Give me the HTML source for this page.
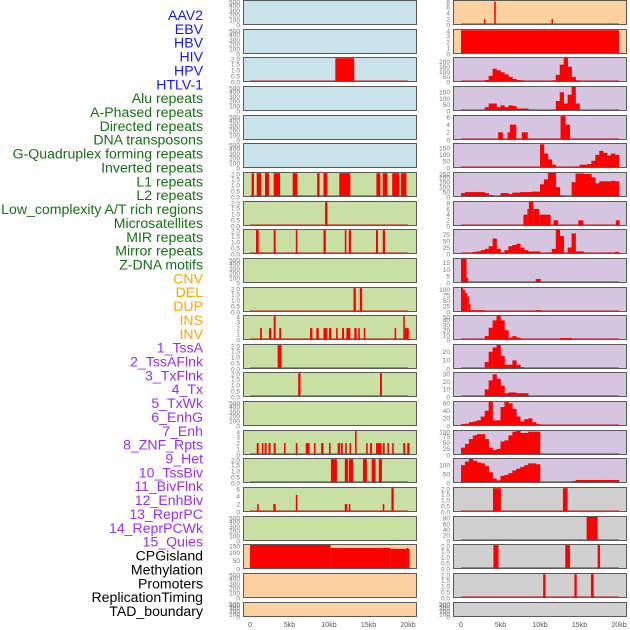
<!DOCTYPE html>
<html><head><meta charset="utf-8">
<style>
html,body{margin:0;padding:0;background:#fff;}
svg{display:block;font-family:"Liberation Sans",sans-serif;}
</style></head>
<body>
<svg id="chart" width="630" height="630" viewBox="0 0 630 630" xmlns="http://www.w3.org/2000/svg">
<g id="labels"></g>
<g id="panels"></g>
<g id="xaxes"></g>
</svg>
<script>
// ---------- data ----------
const featureNames = ["AAV2","EBV","HBV","HIV","HPV","HTLV-1","Alu repeats","A-Phased repeats","Directed repeats","DNA transposons","G-Quadruplex forming repeats","Inverted repeats","L1 repeats","L2 repeats","Low_complexity A/T rich regions","Microsatellites","MIR repeats","Mirror repeats","Z-DNA motifs","CNV","DEL","DUP","INS","INV","1_TssA","2_TssAFlnk","3_TxFlnk","4_Tx","5_TxWk","6_EnhG","7_Enh","8_ZNF_Rpts","9_Het","10_TssBiv","11_BivFlnk","12_EnhBiv","13_ReprPC","14_ReprPCWk","15_Quies","CPGisland","Methylation","Promoters","ReplicationTiming","TAD_boundary"];
const featureGroups = ["virus","virus","virus","virus","virus","virus","repeat","repeat","repeat","repeat","repeat","repeat","repeat","repeat","repeat","repeat","repeat","repeat","repeat","sv","sv","sv","sv","sv","chrom","chrom","chrom","chrom","chrom","chrom","chrom","chrom","chrom","chrom","chrom","chrom","chrom","chrom","chrom","other","other","other","other","other"];
const xTickValues = [0,5,10,15,20];
const xTickLabels = ["0","5kb","10kb","15kb","20kb"];

// left column segments [startKb, endKb, value]
const left3Segs = [[10.8,13.2,2]];
const left7Segs = [[0.2,0.5,2],[0.85,1.4,2],[1.9,2.4,2],[3.0,3.8,2],[5.4,6.0,2],[8.5,8.8,2],[9.3,9.8,2],[11.3,12.7,2],[16.0,16.5,2],[16.8,17.4,2],[18.0,18.9,2],[19.1,19.8,2]];
const left8Segs = [[9.5,9.8,2]];
const left9Segs = [[0.76,1.1,2],[3.0,3.25,2],[5.8,6.0,2],[9.3,9.6,2],[12.0,12.2,2],[12.5,12.8,2],[15.95,16.2,2],[16.8,17.1,2]];
const left11Segs = [[13.1,13.4,2],[13.9,14.2,2]];
const left12Segs = [[1.27,1.5,2],[2.4,2.7,2],[3.0,3.25,4],[3.7,3.96,2],[7.6,7.9,2],[8.4,8.7,2],[9.3,9.8,2],[10.0,10.3,2],[10.9,11.1,2],[11.65,11.9,2],[12.2,12.7,2],[13.2,13.5,2],[13.7,13.9,2],[14.4,14.6,2],[18.3,18.5,2],[19.4,19.6,4],[19.6,20.1,2]];
const left13Segs = [[3.5,4.0,2]];
const left14Segs = [[6.1,6.4,2],[16.45,16.7,2]];
const left16Segs = [[0.85,1.1,2],[1.5,1.7,2],[1.85,2.1,2],[2.35,2.6,2],[3.0,3.25,2],[4.3,4.5,2],[5.8,6.0,2],[7.05,7.55,2],[8.1,8.3,2],[9.0,9.3,2],[10.0,10.2,2],[11.1,11.4,2],[11.5,11.75,2],[12.05,12.25,2],[12.6,12.8,2],[13.3,13.5,4],[14.7,14.9,2],[15.2,15.45,2],[15.95,16.65,2],[16.8,17.05,2],[17.4,17.6,2],[18.0,18.2,2],[19.4,19.65,2],[19.9,20.2,2]];
const left17Segs = [[10.25,11.0,2],[12.0,12.4,2],[12.5,13.05,2],[14.3,14.8,2],[15.4,15.9,2],[16.3,16.7,2]];
const left18Segs = [[0.9,1.1,2],[2.95,3.25,2],[5.8,6.0,4.3],[12.0,12.3,2],[12.5,12.7,2],[16.8,17.0,2],[17.9,18.2,6]];
const left20Segs = [[0,10.2,150],[10.2,17.8,130],[17.8,19.8,125],[19.8,20.0,130],[20.0,20.2,125]];

// right column segments
const right1Segs = [[2.9,3.1,2],[4.2,4.4,8],[11.45,11.65,2]];
const right2Segs = [[0,20,4]];
const right5Segs = [[4.7,5.3,2],[5.9,6.2,2],[6.2,7.0,4],[7.7,8.45,2],[12.6,13.25,6.2],[13.25,13.8,4]];
const right8Segs = [[7.9,8.4,4],[8.4,8.6,6],[8.6,9.15,8.5],[9.15,9.9,6],[9.9,11.35,4],[11.7,12.3,2],[14.85,15.5,2],[19.6,20.1,2]];
const right10Segs = [[0,0.7,18],[0.7,0.9,4],[9.45,10.1,3]];
const right11Segs = [[0,0.25,110],[0.25,0.5,100],[0.5,0.8,85],[0.8,1.0,70],[1.0,1.2,35],[1.2,3.0,8],[9.45,10.1,8]];
const right18Segs = [[4.05,5.05,2],[12.9,13.5,2]];
const right19Segs = [[15.9,17.3,85]];
const right20Segs = [[4.1,4.75,2],[13.2,13.8,2],[17.3,17.6,2]];
const right21Segs = [[10.4,10.7,2],[14.35,14.65,2],[16.45,16.8,2]];

// right column histograms: 40 bins of 0.5kb from 0 to 20kb
const right3Hist = [0,0,0,0,0,0,20,60,130,115,95,75,50,30,20,15,0,0,0,0,10,10,0,15,70,170,240,150,50,15,0,0,0,0,0,0,0,0,0,0];
const right4Hist = [0,0,0,0,0,0,30,60,60,30,45,30,45,40,20,20,20,10,0,0,0,8,0,8,80,150,60,130,200,60,0,0,0,0,0,0,0,0,0,0];
const right6Hist = [0,0,0,0,0,0,0,0,0,0,0,0,0,0,0,0,0,0,0,0,180,110,65,25,0,0,0,0,0,10,25,25,30,55,100,130,115,95,110,100];
const right7Hist = [40,50,50,50,50,50,40,20,10,10,40,40,30,45,45,50,50,50,55,55,130,180,250,250,100,15,10,10,150,240,240,235,235,200,140,160,160,160,165,160];
const right9Hist = [0,5,0,8,10,15,20,30,60,20,5,15,30,35,40,25,15,10,10,10,0,0,5,20,95,70,0,25,80,10,10,0,0,0,0,0,0,5,0,8];
const right12Hist = [0,0,0,0,0,0,8,25,40,50,40,20,5,8,5,0,0,0,0,0,0,0,0,0,0,4,4,4,0,0,0,0,0,0,0,0,0,0,0,0];
const right13Hist = [0,0,0,0,0,0,8,20,25,28,15,5,5,10,5,2,0,0,0,0,0,0,0,0,0,0,0,0,0,0,0,0,0,0,0,0,0,0,0,0];
const right14Hist = [0,0,0,0,0,0,10,22,30,24,15,5,6,6,5,5,5,0,0,0,0,0,0,0,0,0,0,0,0,0,0,0,0,0,0,0,0,0,0,0];
const right15Hist = [5,6,10,12,15,25,40,65,15,15,50,65,60,45,25,12,18,20,10,5,0,0,0,0,0,0,0,0,0,0,0,0,0,0,0,0,0,0,0,0];
const right16Hist = [30,45,65,80,85,85,65,30,20,25,55,60,80,95,100,90,90,95,95,95,0,0,0,0,0,0,0,0,0,0,0,0,0,0,0,0,0,0,0,0];
const right17Hist = [100,120,135,125,115,110,95,60,25,15,40,45,55,70,80,90,100,110,110,105,0,0,0,0,0,0,0,0,10,17,17,17,17,17,17,17,17,17,17,17];

// ---------- layout ----------
const ticks500 = [0,100,200,300,400,500];
const ticks2 = [0,0.5,1.0,1.5,2.0];
const tickLbl2 = ["0.0","0.5","1.0","1.5","2.0"];
const BLUE="#c8e3ea", GREEN="#c8e0a3", PEACH="#fdd09f", LAV="#d5c5e1", GREY="#d0d0d0";
function L(segs,bg,ticks,yMax,lbls){return {segs,bg,ticks,yMax,lbls};}
const leftPanels = [
  L(null,BLUE,ticks500,520),L(null,BLUE,ticks500,520),L(left3Segs,BLUE,ticks2,2.1,tickLbl2),
  L(null,BLUE,ticks500,520),L(null,BLUE,ticks500,520),L(null,BLUE,ticks500,520),
  L(left7Segs,GREEN,ticks2,2.1,tickLbl2),L(left8Segs,GREEN,ticks2,2.1,tickLbl2),L(left9Segs,GREEN,ticks2,2.1,tickLbl2),
  L(null,GREEN,ticks500,520),L(left11Segs,GREEN,ticks2,2.1,tickLbl2),L(left12Segs,GREEN,[0,1,2,3,4],4.2),
  L(left13Segs,GREEN,ticks2,2.1,tickLbl2),L(left14Segs,GREEN,ticks2,2.1,tickLbl2),L(null,GREEN,ticks500,520),
  L(left16Segs,GREEN,[0,1,2,3,4],4.2),L(left17Segs,GREEN,ticks2,2.1,tickLbl2),L(left18Segs,GREEN,[0,2,4,6],6.3),
  L(null,GREEN,ticks500,520),L(left20Segs,PEACH,[0,50,100,150],155),L(null,PEACH,ticks500,520),L(null,PEACH,ticks500,520)
];
const rightPanels = [
  L(right1Segs,PEACH,[0,2,4,6,8],8.5),L(right2Segs,PEACH,[0,1,2,3,4],4.2),
  {hist:right3Hist,bg:LAV,ticks:[0,50,100,150,200],yMax:245},
  {hist:right4Hist,bg:LAV,ticks:[0,50,100,150],yMax:200},
  L(right5Segs,LAV,[0,2,4,6],6.5),
  {hist:right6Hist,bg:LAV,ticks:[0,50,100,150],yMax:190},
  {hist:right7Hist,bg:LAV,ticks:[0,50,100,150,200,250],yMax:255},
  L(right8Segs,LAV,[0,2,4,6,8],8.8),
  {hist:right9Hist,bg:LAV,ticks:[0,25,50,75],yMax:97},
  L(right10Segs,LAV,[0,5,10,15],18.5),
  L(right11Segs,LAV,[0,25,50,75,100],112),
  {hist:right12Hist,bg:LAV,ticks:[0,10,20,30,40,50],yMax:51},
  {hist:right13Hist,bg:LAV,ticks:[0,10,20],yMax:29},
  {hist:right14Hist,bg:LAV,ticks:[0,10,20,30],yMax:33},
  {hist:right15Hist,bg:LAV,ticks:[0,20,40,60],yMax:66},
  {hist:right16Hist,bg:LAV,ticks:[0,25,50,75,100],yMax:102},
  {hist:right17Hist,bg:LAV,ticks:[0,50,100],yMax:140},
  L(right18Segs,GREY,ticks2,2.1,tickLbl2),L(right19Segs,GREY,[0,20,40,60,80],88),
  L(right20Segs,GREY,ticks2,2.1,tickLbl2),L(right21Segs,GREY,ticks2,2.1,tickLbl2),L(null,GREY,ticks500,520)
];

const NS="http://www.w3.org/2000/svg";
const groupColor={virus:"#1414ff",repeat:"#137013",sv:"#ffa500",chrom:"#9b2cf0",other:"#000"};
function mk(tag,attrs,parent){const e=document.createElementNS(NS,tag);for(const k in attrs)e.setAttribute(k,attrs[k]);parent.appendChild(e);return e;}
function slug(s){return s.toLowerCase().replace(/[^a-z0-9]+/g,'-').replace(/^-|-$/g,'');}

const labelsG=document.getElementById('labels');
featureNames.forEach((n,i)=>{
  const t=mk('text',{x:203,y:15+i*13.86+5,'text-anchor':'end','font-size':14.1,fill:groupColor[featureGroups[i]]},labelsG);
  
  
  t.textContent=n;
});

const COLS=[{left:243,x0:250},{left:453,x0:461}];
const PW=174, KB=7.9;
function xScale(c,kb){return COLS[c].x0+kb*KB;}
function rowTop(r){return Math.round(r*28.65);}
function rowH(r){return r===21?15:25;}
const panelsG=document.getElementById('panels');

function drawPanel(c,r,p){
  const top=rowTop(r),h=rowH(r),left=COLS[c].left,bottom=top+h;
  const yScale=v=>bottom-v/p.yMax*h;
  const g=mk('g',{},panelsG);
  
  
  mk('rect',{x:left,y:top,width:PW,height:h,fill:p.bg},g);
  const hasData=!!(p.segs||p.hist);
  if(hasData){
    mk('rect',{x:xScale(c,0),y:bottom-2,width:xScale(c,20)-xScale(c,0),height:2,fill:"rgba(200,0,0,0.45)"},g);
  }
  if(p.segs){
    p.segs.forEach((s)=>{
      const b=mk('rect',{x:xScale(c,s[0]),y:yScale(s[2]),width:Math.max(1,xScale(c,s[1])-xScale(c,s[0])),height:bottom-yScale(s[2]),fill:"#ff0000"},g);
      
      
    });
  }
  if(p.hist){
    p.hist.forEach((v,i)=>{
      if(v<=0)return;
      const b=mk('rect',{x:xScale(c,i*0.5),y:yScale(v),width:xScale(c,(i+1)*0.5)-xScale(c,i*0.5)+0.3,height:bottom-yScale(v),fill:"#ff0000"},g);
      
      
    });
  }
  mk('rect',{x:left+0.5,y:top+0.5,width:PW-1,height:h-1,fill:"none",stroke:"#5a5a5a","stroke-width":1},g);
  p.ticks.forEach((t,i)=>{
    const lbl=p.lbls?p.lbls[i]:String(t);
    const y=Math.min(Math.max(yScale(t),top+2),bottom);
    const tx=mk('text',{x:left-3,y:y+2.3,'text-anchor':'end','font-size':6.5,fill:"#777"},g);
    
    
    tx.textContent=lbl;
  });
}
leftPanels.forEach((p,r)=>drawPanel(0,r,p));
rightPanels.forEach((p,r)=>drawPanel(1,r,p));

const xg=document.getElementById('xaxes');
[0,1].forEach(c=>{
  xTickValues.forEach((v,i)=>{
    const t=mk('text',{x:xScale(c,v),y:627,'text-anchor':'middle','font-size':7,fill:"#555"},xg);
    
    
    t.textContent=xTickLabels[i];
  });
});
</script>
</body></html>
